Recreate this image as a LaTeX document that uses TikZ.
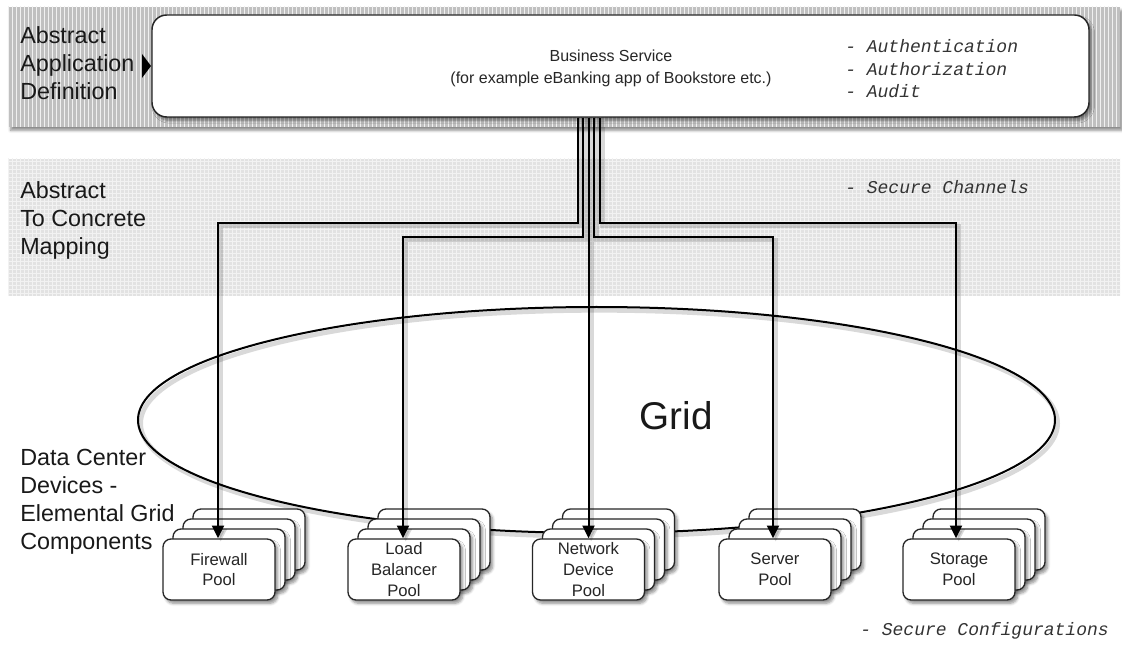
\documentclass[tikz,border=0pt]{standalone}
\usepackage{fontspec}
\setmainfont{Liberation Sans}
\newfontfamily\codefont{Liberation Mono}
\usetikzlibrary{shapes.geometric,arrows.meta,shadows.blur,calc,patterns}
\definecolor{bandtop}{HTML}{C0C0C0}
\definecolor{bandmid}{HTML}{E2E2E2}
\newcommand{\poolstack}[4]{%
  \foreach \k in {3,2,1}{\node[poolbox] (#1\k) at (#2+10*\k,#3-10*\k) {};}
  \node[poolbox] (#1) at (#2,#3) {#4};}
\begin{document}
\begin{tikzpicture}[x=0.75pt,y=-0.75pt,
  sh/.style={blur shadow={shadow xshift=2pt,shadow yshift=-2.5pt,shadow blur steps=6,shadow opacity=45}},
  lsh/.style={preaction={draw=black,opacity=0.15,line width=3.5pt,transform canvas={shift={(2pt,-2.5pt)}}}},
  bigbox/.style={draw=black!85,line width=1.1pt,fill=white,rounded corners=11pt,sh,
    minimum width=702.75pt,minimum height=76.5pt,inner sep=0pt},
  poolbox/.style={draw=black!85,line width=1pt,fill=white,rounded corners=6pt,sh,
    minimum width=84pt,minimum height=45.75pt,inner sep=0pt,
    font=\fontsize{12.5}{15.5}\selectfont,align=center,text=black!85},
  conn/.style={draw=black,line width=1.5pt,-{Triangle[length=9.5pt,width=9pt]},lsh},
  lbl/.style={font=\fontsize{17.5}{21}\selectfont,align=left,anchor=north west,inner sep=0pt,text=black!90},
  mono/.style={font=\codefont\itshape\fontsize{13.5}{16.9}\selectfont,anchor=base west,inner sep=0pt,text=black!80}
]
\useasboundingbox (0,0) rectangle (1122,645);
% bands
\fill[bandmid] (8,159) rectangle (1120,296);
\fill[pattern=grid,pattern color=black!5] (8,159) rectangle (1120,296);
\fill[bandtop,sh] (8,7) rectangle (1120,127);
\fill[pattern=vertical lines,pattern color=black!6] (8,7) rectangle (1120,127);
% business service
\node[bigbox] (bs) at (620.5,66) {};
\node[font=\fontsize{12}{16.5}\selectfont,align=center,inner sep=0pt,text=black!85] (bstext) at (611,68)
  {Business Service\\(for example eBanking app of Bookstore etc.)};
\fill[black] (142,54) -- (151,66) -- (142,78) -- cycle;
\node[mono] (auth1) at (845,53) {- Authentication};
\node[mono] (auth2) at (845,76) {- Authorization};
\node[mono] (auth3) at (845,98) {- Audit};
\node[mono] (chan) at (845,194) {- Secure Channels};
\node[mono] (conf) at (860,635) {- Secure Configurations};
% left labels
\node[lbl] (aad) at (20,26) {Abstract\\Application\\Definition};
\node[lbl] (atc) at (20,181) {Abstract\\To Concrete\\Mapping};
\node[lbl] (dcd) at (20,449) {Data Center\\Devices -\\Elemental Grid\\Components};
% grid
\node[draw=black,ellipse,line width=1.5pt,minimum width=687.75pt,minimum height=169.5pt,inner sep=0pt,lsh] (grid) at (596.5,420) {};
\node[font=\fontsize{29}{30}\selectfont,anchor=base,inner sep=0pt,text=black!90] (gridlabel) at (676,430) {Grid};
% pools
\poolstack{fw}{219}{569.5}{Firewall\\Pool}
\poolstack{lb}{404}{569.5}{Load\\Balancer\\Pool}
\poolstack{nd}{588.5}{569.5}{Network\\Device\\Pool}
\poolstack{sv}{775}{569.5}{Server\\Pool}
\poolstack{st}{959}{569.5}{Storage\\Pool}
% connectors
\draw[conn] ($(bs.south)+(-42.5,0)$) -- ++(0,105) -| ([xshift=-0.75pt]fw.north);
\draw[conn] ($(bs.south)+(-37.5,0)$) -- ++(0,119) -| ([xshift=-0.75pt]lb.north);
\draw[conn] (nd.north |- bs.south) -- (nd.north);
\draw[conn] ($(bs.south)+(-26.5,0)$) -- ++(0,119) -| ([xshift=-1.5pt]sv.north);
\draw[conn] ($(bs.south)+(-20.5,0)$) -- ++(0,105) -| ([xshift=-2.25pt]st.north);
\end{tikzpicture}
\end{document}
